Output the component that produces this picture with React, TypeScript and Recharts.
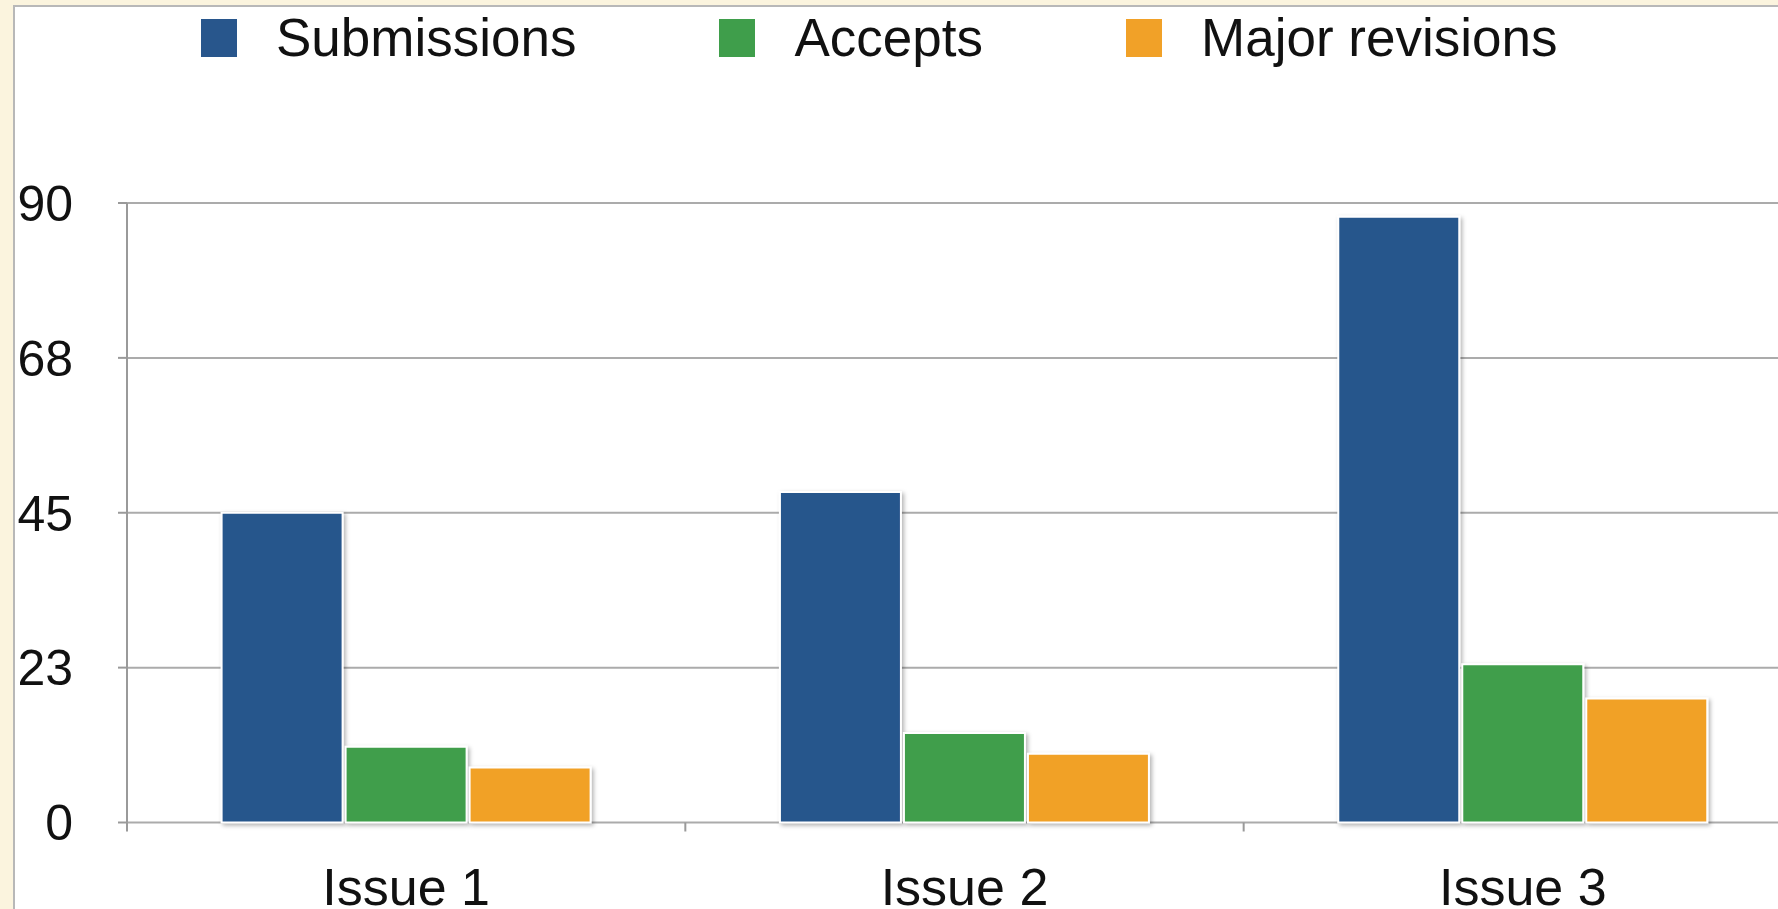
import { Bar, BarChart, CartesianGrid, Legend, XAxis, YAxis } from "recharts";

const categories = ["Issue 1", "Issue 2", "Issue 3"];
const submissions = [45, 48, 88];
const accepts = [11, 13, 23];
const majorRevisions = [8, 10, 18];

const yTicks = [0, 22.5, 45, 67.5, 90];
const yTickLabels = ["0", "23", "45", "68", "90"];
const boundaryTicks = [0, 1, 2, 3];

const series = [
  { key: "submissions", name: "Submissions", color: "#28568c" },
  { key: "accepts", name: "Accepts", color: "#3f9e4b" },
  { key: "majorRevisions", name: "Major revisions", color: "#f1a128" },
];

// slot = middle of each category on a 0..n number scale, used only for the boundary ticks
const data = categories.map((issue, i) => ({
  issue,
  slot: i + 0.5,
  submissions: submissions[i],
  accepts: accepts[i],
  majorRevisions: majorRevisions[i],
}));

const font = '"Liberation Sans", Arial, Helvetica, sans-serif';

// legend drawn in series order (recharts sorts payload by name otherwise)
function LegendRow() {
  return (
    <div style={{ display: "flex", alignItems: "center", fontFamily: font }}>
      {series.map((s, i) => (
        <div
          key={s.key}
          style={{
            display: "flex",
            alignItems: "center",
            marginLeft: i === 0 ? 0 : 143,
            lineHeight: "60px",
            whiteSpace: "nowrap",
          }}
        >
          <span
            style={{
              display: "inline-block",
              width: 36,
              height: 38,
              background: s.color,
              marginRight: 39,
            }}
          />
          <span style={{ fontSize: 53, color: "#111" }}>{s.name}</span>
        </div>
      ))}
    </div>
  );
}

export default function App() {
  return (
    <div
      style={{
        position: "absolute",
        left: 0,
        top: 0,
        width: 1778,
        height: 909,
        overflow: "hidden",
        background: "#fbf4de",
      }}
    >
      <div
        style={{
          position: "absolute",
          left: 13,
          top: 5,
          right: -20,
          bottom: -20,
          background: "#fff",
          borderLeft: "2px solid #b8b8b8",
          borderTop: "2px solid #b8b8b8",
        }}
      />
      <div style={{ position: "absolute", left: 0, top: 0 }}>
        <BarChart
          width={1830}
          height={909}
          data={data}
          margin={{ top: 203, right: 28, bottom: 0, left: 0 }}
          barCategoryGap={94.6}
          barGap={3}
        >
          <defs>
            <filter id="barShadow" x="-10%" y="-10%" width="130%" height="130%">
              <feDropShadow dx="2" dy="2" stdDeviation="2" floodColor="#000" floodOpacity="0.3" />
            </filter>
          </defs>
          <CartesianGrid vertical={false} stroke="#ababab" strokeWidth={2} />
          {/* tick marks between categories */}
          <XAxis
            xAxisId="bounds"
            dataKey="slot"
            type="number"
            domain={[0, categories.length]}
            ticks={boundaryTicks}
            allowDataOverflow
            height={1}
            axisLine={false}
            tick={() => <g />}
            tickSize={9}
            tickLine={{ stroke: "#9a9a9a", strokeWidth: 2 }}
            interval={0}
          />
          <XAxis
            xAxisId="cat"
            dataKey="issue"
            height={85.5}
            tickLine={false}
            tickSize={0}
            tickMargin={44.5}
            axisLine={false}
            tick={{ fontSize: 52, fill: "#111", fontFamily: font }}
            interval={0}
          />
          <YAxis
            type="number"
            domain={[0, 90]}
            ticks={yTicks}
            tickFormatter={(v: number, i: number) => yTickLabels[i] ?? String(v)}
            width={127}
            tickSize={9}
            tickMargin={45}
            axisLine={{ stroke: "#9a9a9a", strokeWidth: 2 }}
            tickLine={{ stroke: "#9a9a9a", strokeWidth: 2 }}
            tick={{ fontSize: 50, fill: "#111", fontFamily: font }}
            interval={0}
          />
          <Legend
            layout="horizontal"
            verticalAlign="middle"
            align="center"
            content={<LegendRow />}
            wrapperStyle={{ top: 8, left: 201, width: "auto", height: 60 }}
          />
          {series.map((s) => (
            <Bar
              key={s.key}
              xAxisId="cat"
              dataKey={s.key}
              name={s.name}
              fill={s.color}
              stroke="#ffffff"
              strokeWidth={2}
              filter="url(#barShadow)"
              isAnimationActive={false}
            />
          ))}
        </BarChart>
      </div>
    </div>
  );
}
